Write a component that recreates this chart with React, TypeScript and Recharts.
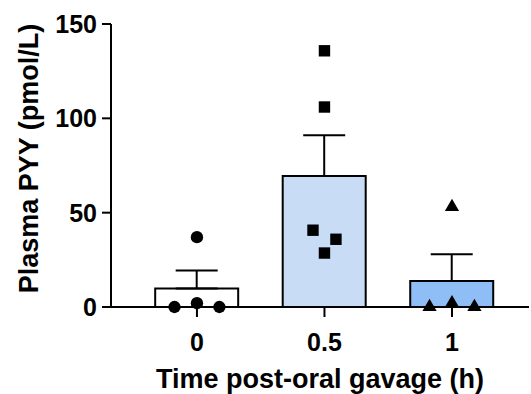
import {
  Bar,
  Cell,
  ComposedChart,
  ErrorBar,
  Scatter,
  Symbols,
  XAxis,
  YAxis,
} from 'recharts'

const FONT = '"Liberation Sans", Arial, sans-serif'

// group means (time in h) and upper SEM
const times = [0, 0.5, 1]
const means = [9.75, 69.4, 13.8]
const sems = [9.6, 21.6, 14.2]
const barFills = ['#ffffff', '#c8dcf6', '#8fbdf6']

// individual animals, x = time + jitter
const pts0x = [-0.088, 0, 0.088, 0]
const pts0y = [0, 2, 0, 37]
const pts05x = [0.5, 0.5, 0.455, 0.545, 0.5]
const pts05y = [135.8, 106, 40.7, 35.9, 28.6]
const pts1x = [0.912, 1, 1.088, 1]
const pts1y = [0, 2, 0, 53]

const yTicks = [0, 50, 100, 150]
const xDomain = [-0.337, 1.302]

const barData = times.map((t, i) => ({ x: t, y: means[i], err: [0, sems[i]] }))
const toPts = (xs: number[], ys: number[]) => xs.map((x, i) => ({ x, y: ys[i] }))

const tickStyle = { fill: '#000', fontSize: 25, fontWeight: 700, fontFamily: FONT }
const axisLine = { stroke: '#000', strokeWidth: 2 }

// marker drawn at the point the library computed
const marker = (type: 'circle' | 'square' | 'triangle', size: number) => (p: any) => (
  <Symbols cx={p.cx} cy={p.cy} type={type} size={size} fill="#000" />
)

export default function App() {
  return (
    <div style={{ position: 'absolute', left: 0, top: 0, background: '#fff' }}>
      <ComposedChart
        width={531}
        height={394}
        data={barData}
        margin={{ top: 24, right: 2, bottom: 0, left: 0 }}
      >
        <XAxis
          dataKey="x"
          type="number"
          domain={xDomain}
          ticks={times}
          allowDataOverflow
          height={87}
          stroke="#000"
          strokeWidth={2}
          axisLine={axisLine}
          tickLine={axisLine}
          tickSize={10}
          tickMargin={16}
          tick={tickStyle}
          tickFormatter={(v: number) => String(v)}
          label={{
            value: 'Time post-oral gavage (h)',
            position: 'insideBottom',
            offset: 6,
            fill: '#000',
            fontSize: 27,
            fontWeight: 700,
            fontFamily: FONT,
          }}
        />
        {/* bars get their own hidden axis so the jittered dots don't shrink the band */}
        <XAxis xAxisId="bars" dataKey="x" type="number" domain={xDomain} ticks={times} allowDataOverflow hide />
        <YAxis
          dataKey="y"
          type="number"
          domain={[0, 150]}
          ticks={yTicks}
          width={111}
          stroke="#000"
          strokeWidth={2}
          axisLine={axisLine}
          tickLine={axisLine}
          tickSize={9}
          tickMargin={5}
          tick={tickStyle}
          label={{
            content: (props: any) => {
              const vb = props.viewBox
              const cy = vb.y + vb.height / 2 - 7
              return (
                <text
                  x={38}
                  y={cy}
                  transform={`rotate(-90, 38, ${cy})`}
                  textAnchor="middle"
                  fill="#000"
                  fontSize={27}
                  fontWeight={700}
                  fontFamily={FONT}
                >
                  Plasma PYY (pmol/L)
                </text>
              )
            },
          }}
        />
        <Bar
          xAxisId="bars"
          dataKey="y"
          barSize={83}
          stroke="#000"
          strokeWidth={2}
          isAnimationActive={false}
        >
          {barData.map((_, i) => (
            <Cell key={i} fill={barFills[i]} />
          ))}
          <ErrorBar dataKey="err" direction="y" width={21} stroke="#000" strokeWidth={2} />
        </Bar>
        <Scatter data={toPts(pts0x, pts0y)} shape={marker('circle', 120)} isAnimationActive={false} />
        <Scatter data={toPts(pts05x, pts05y)} shape={marker('square', 130)} isAnimationActive={false} />
        <Scatter data={toPts(pts1x, pts1y)} shape={marker('triangle', 88)} isAnimationActive={false} />
      </ComposedChart>
    </div>
  )
}
